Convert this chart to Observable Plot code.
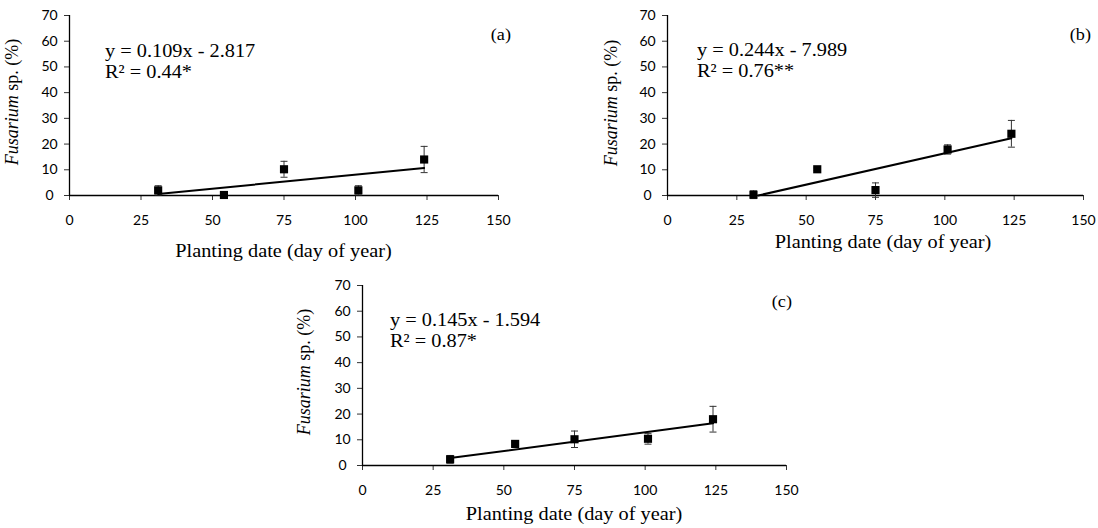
<!DOCTYPE html>
<html>
<head>
<meta charset="utf-8">
<script src="https://cdn.jsdelivr.net/npm/d3@7"></script>
<script src="https://cdn.jsdelivr.net/npm/@observablehq/plot@0.6"></script>
<style>
  html, body { margin: 0; padding: 0; background: #fff; }
  #chart { position: relative; width: 1098px; height: 528px; background: #fff; overflow: hidden; }
  #chart > div, #chart > svg { position: absolute; }
  #chart text.serif, #chart text.serif tspan { font-family: "Liberation Serif", "Times New Roman", serif !important; }
</style>
</head>
<body>
<div id="chart"></div>
<script>
// ---------------- data ----------------
const days = [31, 54, 75, 101, 124];
const meanA = [2.0, 0.2, 10.2, 2.0, 14.0];
const errA  = [1.8, 0.0, 3.1, 1.8, 5.1];
const meanB = [0.3, 10.2, 2.1, 17.9, 24.0];
const errB  = [1.5, 0.5, 2.8, 1.8, 5.2];
const meanC = [2.4, 8.4, 10.2, 10.4, 18.0];
const errC  = [1.5, 0.7, 3.2, 2.1, 5.0];

const trendStartX = [31, 32.7, 31];
const trendStartY = [0.6, 0.0, 2.9];
const trendEndX   = [124, 124, 124];
const trendEndY   = [10.7, 22.3, 16.4];

const equations = ["y = 0.109x - 2.817", "y = 0.244x - 7.989", "y = 0.145x - 1.594"];
const r2Labels  = ["R\u00B2 = 0.44*", "R\u00B2 = 0.76**", "R\u00B2 = 0.87*"];
const panelLabels = ["(a)", "(b)", "(c)"];
const xTicks = [0, 25, 50, 75, 100, 125, 150];
const yTicks = [0, 10, 20, 30, 40, 50, 60, 70];
const xTitle = "Planting date (day of year)";
const yTitleItalic = "Fusarium";
const yTitleRest = " sp. (%)";

// ---------------- layout ----------------
const panels = [
  {means: meanA, errs: errA, left: 0, top: 0, w: 540, h: 265, ml: 69, mr: 42, mt: 15, mb: 70,
   eqX: 105, eqY: 57, r2Y: 78, labX: 511, labY: 40, xtX: 283.5, xtY: 257, ytX: 18, ytY: 102},
  {means: meanB, errs: errB, left: 540, top: 0, w: 558, h: 265, ml: 127, mr: 15, mt: 15, mb: 70,
   eqX: 697, eqY: 56, r2Y: 77, labX: 1091, labY: 40, xtX: 883, xtY: 248, ytX: 617, ytY: 103},
  {means: meanC, errs: errC, left: 250, top: 270, w: 560, h: 258, ml: 112, mr: 24, mt: 15, mb: 63,
   eqX: 390, eqY: 326, r2Y: 347, labX: 792, labY: 307, xtX: 574, xtY: 520, ytX: 310, ytY: 372}
];

const capSymbol = {
  draw(context) { context.moveTo(-3.5, 0); context.lineTo(3.5, 0); }
};

const chart = document.getElementById("chart");

panels.forEach((p, i) => {
  const pts = days.map((d, k) => ({x: d, y: p.means[k], e: p.errs[k]}));
  const bars = pts.filter(d => d.e > 0);
  const trend = [{x: trendStartX[i], y: trendStartY[i]}, {x: trendEndX[i], y: trendEndY[i]}];

  const svg = Plot.plot({
    width: p.w, height: p.h,
    marginLeft: p.ml, marginRight: p.mr, marginTop: p.mt, marginBottom: p.mb,
    style: {fontFamily: "Lato, 'Open Sans', sans-serif", fontSize: "14px", color: "#000", background: "transparent"},
    x: {domain: [0, 150]},
    y: {domain: [0, 70]},
    marks: [
      Plot.axisY({ticks: yTicks, tickSize: 5, tickPadding: 15, textAnchor: "middle", label: null, fontSize: 14, stroke: "#333"}),
      Plot.axisX({ticks: xTicks, tickSize: 5, tickPadding: 15, label: null, fontSize: 14, stroke: "#333"}),
      Plot.ruleY([0], {stroke: "#000", strokeWidth: 1.3}),
      Plot.ruleX([0], {stroke: "#000", strokeWidth: 1.3}),
      Plot.ruleX(bars, {x: "x", y1: d => d.y - d.e, y2: d => d.y + d.e, stroke: "#333", strokeWidth: 1}),
      Plot.dot(bars, {x: "x", y: d => d.y + d.e, symbol: capSymbol, stroke: "#333", fill: "none", strokeWidth: 1}),
      Plot.dot(bars, {x: "x", y: d => d.y - d.e, symbol: capSymbol, stroke: "#333", fill: "none", strokeWidth: 1}),
      Plot.dot(pts, {x: "x", y: "y", symbol: "square", r: 4.6, fill: "#000", stroke: "none"}),
      Plot.line(trend, {x: "x", y: "y", stroke: "#000", strokeWidth: 2})
    ]
  });
  svg.style.left = p.left + "px";
  svg.style.top = p.top + "px";
  svg.style.overflow = "visible";
  chart.appendChild(svg);

  const s = d3.select(svg);
  const g = s.append("g").style("fill", "#000");
  const lx = x => x - p.left, ly = y => y - p.top;
  const sx = 1.07;

  const addText = (x, y, size, anchor, txt) =>
    g.append("text").attr("class", "serif")
      .attr("transform", `translate(${lx(x)},${ly(y)}) scale(${sx},1)`)
      .style("font-size", size + "px").style("text-anchor", anchor).text(txt);

  addText(p.eqX, p.eqY, 19, "start", equations[i]);
  addText(p.eqX, p.r2Y, 19, "start", r2Labels[i]);
  addText(p.labX, p.labY, 17, "end", panelLabels[i]);
  addText(p.xtX, p.xtY, 19, "middle", xTitle);

  const yt = g.append("text").attr("class", "serif")
    .attr("transform", `translate(${lx(p.ytX)},${ly(p.ytY)}) scale(${sx},1) rotate(-90)`)
    .style("font-size", "18px").style("text-anchor", "middle");
  yt.append("tspan").style("font-style", "italic").text(yTitleItalic);
  yt.append("tspan").text(yTitleRest);
});
</script>
</body>
</html>
